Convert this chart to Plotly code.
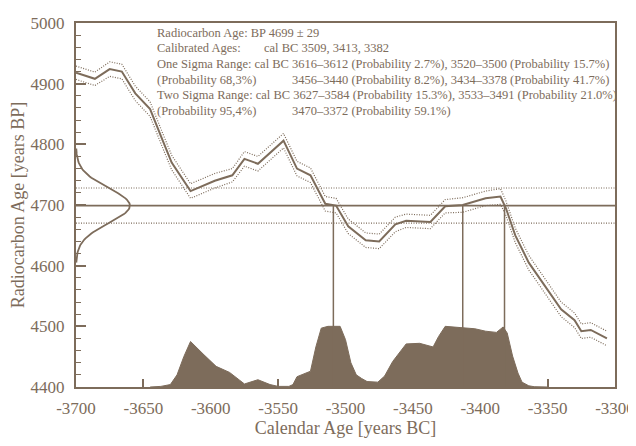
import math
import plotly.graph_objects as go

# ---- data ----
cal_year = [-3700, -3686, -3675, -3666, -3656, -3645, -3636, -3629, -3615, -3597,
            -3584, -3575, -3565, -3546, -3536, -3526, -3515, -3507, -3498, -3485,
            -3475, -3463, -3455, -3437, -3426, -3413, -3396, -3385, -3381, -3374,
            -3364, -3352, -3340, -3330, -3325, -3318, -3306]
cal_bp = [4918, 4908, 4924, 4920, 4884, 4858, 4808, 4770, 4723, 4740,
          4749, 4776, 4768, 4806, 4760, 4749, 4702, 4699, 4665, 4642,
          4640, 4668, 4674, 4672, 4698, 4700, 4711, 4714, 4695, 4650,
          4605, 4566, 4528, 4510, 4492, 4494, 4480]
cal_sigma = [11, 11, 12, 12, 12, 12, 12, 12, 12, 12,
             11, 12, 12, 12, 12, 12, 12, 12, 12, 12,
             12, 12, 11, 11, 11, 12, 12, 13, 12, 12,
             12, 12, 12, 12, 12, 12, 12]

dens_year = [-3645, -3637, -3630, -3625, -3620, -3615, -3605, -3596, -3586, -3581,
             -3575, -3565, -3556, -3550, -3542, -3539, -3536, -3526, -3522, -3518,
             -3513, -3504, -3500, -3496, -3492, -3488, -3484, -3476, -3471, -3465,
             -3455, -3445, -3435, -3431, -3426, -3415, -3404, -3396, -3388, -3383,
             -3380, -3376, -3372, -3369, -3364, -3360, -3350]
dens_prob = [0, 1, 4, 20, 50, 75, 53, 34, 24, 15,
             5, 12, 4, 1, 1, 4, 17, 26, 66, 97,
             100, 100, 78, 40, 20, 14, 9, 8, 18, 42,
             71, 72, 66, 83, 100, 98, 96, 92, 90, 99,
             89, 51, 23, 8, 2, 0.5, 0]

c14_age = 4699
c14_err = 29
cal_ages = [-3509, -3413, -3382]

x_ticks = [-3700, -3650, -3600, -3550, -3500, -3450, -3400, -3350, -3300]
x_tick_text = ["-3700", "-3650", "-3600", "-3550", "-3500", "-3450", "-3400", "-3350", "-3300"]
y_ticks = [4400, 4500, 4600, 4700, 4800, 4900, 5000]

text_col1 = [
    "Radiocarbon Age: BP 4699 \u00b1 29",
    "Calibrated Ages:",
    "One Sigma Range: cal BC 3616\u20133612 (Probability 2.7%), 3520\u20133500 (Probability 15.7%)",
    "(Probability 68,3%)",
    "Two Sigma Range: cal BC 3627\u20133584 (Probability 15.3%), 3533\u20133491 (Probability 21.0%)",
    "(Probability 95,4%)",
]
text_col2 = {
    1: "cal BC 3509, 3413, 3382",
    3: "3456\u20133440 (Probability 8.2%), 3434\u20133378 (Probability 41.7%)",
    5: "3470\u20133372 (Probability 59.1%)",
}

# ---- style ----
C = "#7d6c5b"
FONT = "Liberation Serif"
DOT = "1px,1.5px"
OFF = 8                      # page body margin of the browser
W, H = 636 - OFF, 446 - OFF
# desired plot frame in screenshot pixels
FL, FR, FT, FB = 76, 615, 23, 387
L, R, T, B = FL - OFF, W - (FR - OFF), FT - OFF, H - (FB - OFF)
PW, PH = W - L - R, H - T - B
X0, X1, Y0, Y1 = -3700, -3300, 4400, 5000

fig = go.Figure()

# probability distribution (filled)
px = [dens_year[0]] + dens_year + [dens_year[-1]]
py = [Y0] + [Y0 + v for v in dens_prob] + [Y0]
fig.add_trace(go.Scatter(x=px, y=py, mode="lines", fill="toself",
                         fillcolor=C, line=dict(color=C, width=1), hoverinfo="skip"))

# calibration curve with sigma band
up = [m + s for m, s in zip(cal_bp, cal_sigma)]
lo = [m - s for m, s in zip(cal_bp, cal_sigma)]
fig.add_trace(go.Scatter(x=cal_year, y=up, mode="lines",
                         line=dict(color=C, width=1.2, dash=DOT)))
fig.add_trace(go.Scatter(x=cal_year, y=lo, mode="lines",
                         line=dict(color=C, width=1.2, dash=DOT)))
fig.add_trace(go.Scatter(x=cal_year, y=cal_bp, mode="lines",
                         line=dict(color=C, width=2)))

# measured age gaussian on the y axis
gy = list(range(c14_age - 94, c14_age + 96, 2))
gx = [X0 + 40 * math.exp(-((v - c14_age) ** 2) / (2 * c14_err ** 2)) for v in gy]
fig.add_trace(go.Scatter(x=gx, y=gy, mode="lines", line=dict(color=C, width=1.8)))

# horizontal lines
fig.add_shape(type="line", xref="x", yref="y", x0=X0, x1=X1, y0=c14_age, y1=c14_age,
              line=dict(color=C, width=1.6))
for yv in (c14_age - c14_err, c14_age + c14_err):
    fig.add_shape(type="line", xref="x", yref="y", x0=X0, x1=X1, y0=yv, y1=yv,
                  line=dict(color=C, width=1.2, dash=DOT))
# vertical lines at calibrated ages
for xv in cal_ages:
    fig.add_shape(type="line", xref="x", yref="y", x0=xv, x1=xv, y0=Y0, y1=c14_age,
                  line=dict(color=C, width=1.5))

# text block (positions given in screenshot pixels)
line_px = [33.3, 48.3, 63.5, 79.5, 95.2, 110.8]
def pxx(p):
    return (p - FL) / PW
def pyy(p):
    return 1 - (p - FT) / PH
for i, t in enumerate(text_col1):
    fig.add_annotation(text=t, xref="paper", yref="paper", x=pxx(155), y=pyy(line_px[i]),
                       xanchor="left", yanchor="middle", showarrow=False,
                       font=dict(family=FONT, size=12.5, color=C))
col2_x = {1: 262, 3: 290, 5: 290}
for i, t in text_col2.items():
    fig.add_annotation(text=t, xref="paper", yref="paper", x=pxx(col2_x[i]), y=pyy(line_px[i]),
                       xanchor="left", yanchor="middle", showarrow=False,
                       font=dict(family=FONT, size=12.5, color=C))

axis_common = dict(showline=True, linecolor=C, linewidth=2, mirror=True,
                   showgrid=False, zeroline=False, ticks="inside", tickcolor=C,
                   tickwidth=1.5, automargin=False, ticklabeloverflow="allow",
                   tickfont=dict(family=FONT, size=17, color=C))
fig.update_xaxes(range=[X0, X1], tickvals=x_ticks, ticktext=x_tick_text, ticklen=8,
                 title=dict(text="Calendar Age [years BC]", font=dict(family=FONT, size=18, color=C),
                            standoff=0),
                 ticklabelstandoff=5, **axis_common)
fig.update_yaxes(range=[Y0, Y1], tickvals=y_ticks, ticklen=10,
                 minor=dict(dtick=20, tick0=4400, ticks="inside", ticklen=5, tickcolor=C, tickwidth=1.2),
                 title=dict(text="Radiocarbon Age [years BP]", font=dict(family=FONT, size=18, color=C),
                            standoff=6),
                 ticklabelstandoff=6, **axis_common)

fig.update_layout(width=W, height=H, margin=dict(l=L, r=R, t=T, b=B),
                  paper_bgcolor="white", plot_bgcolor="white", showlegend=False,
                  template="none")

fig.write_html("out.html")
